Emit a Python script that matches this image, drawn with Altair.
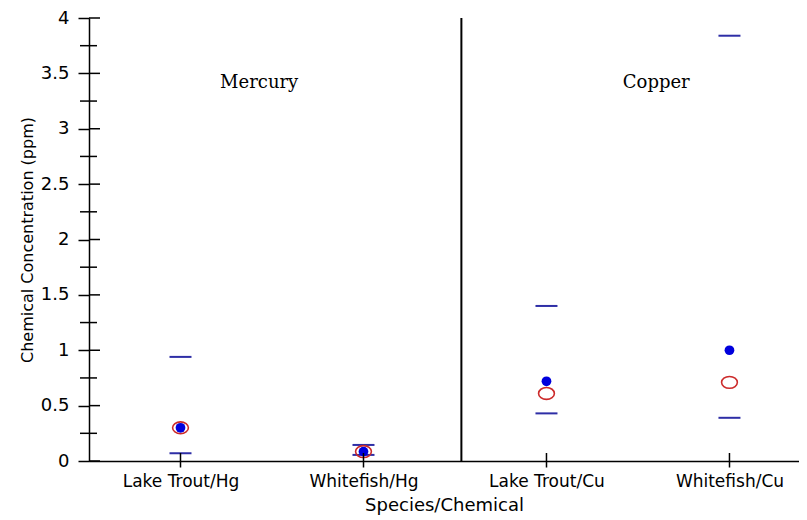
import altair as alt
import pandas as pd

# ---- data ----
categories = ["Lake Trout/Hg", "Whitefish/Hg", "Lake Trout/Cu", "Whitefish/Cu"]
max_vals = [0.94, 0.145, 1.40, 3.84]
min_vals = [0.07, 0.055, 0.43, 0.39]
mean_vals = [0.30, 0.085, 0.72, 1.00]     # filled blue dots
median_vals = [0.30, 0.085, 0.61, 0.71]   # open red ellipses

major_ticks = [0, 0.5, 1, 1.5, 2, 2.5, 3, 3.5, 4]
minor_ticks = [0.25, 0.75, 1.25, 1.75, 2.25, 2.75, 3.25, 3.75]

panel_names = ["Mercury", "Copper"]
panel_at = [0.43, 2.6]
panel_level = [3.41, 3.41]
divider_at = [1.535]

W, H = 710, 443

df = pd.DataFrame({
    "idx": list(range(len(categories))),
    "cat": categories,
    "max": max_vals,
    "min": min_vals,
    "mean": mean_vals,
    "median": median_vals,
})
ticks_major = pd.DataFrame({"v": major_ticks})
ticks_minor = pd.DataFrame({"v": minor_ticks})
panels = pd.DataFrame({"name": panel_names, "x": panel_at, "y": panel_level})
divider = pd.DataFrame({"x": divider_at})

xscale = alt.Scale(domain=[-0.5, 3.38], nice=False, zero=False)
yscale = alt.Scale(domain=[0, 4], nice=False, zero=True)

label_expr = "[" + ",".join("'" + c + "'" for c in categories) + "][datum.value]"

xaxis = alt.Axis(
    values=list(range(len(categories))), labelExpr=label_expr,
    title="Species/Chemical", grid=False,
    domainColor="black", domainWidth=1.5,
    tickColor="black", tickSize=6, tickWidth=1.5,
    labelFont="DejaVu Sans", labelFontSize=17, labelColor="black", labelPadding=6,
    titleFont="DejaVu Sans", titleFontSize=18, titleFontWeight="normal",
    titleColor="black", titlePadding=7,
)
yaxis = alt.Axis(
    values=major_ticks, format="~g", title="Chemical Concentration (ppm)", grid=False,
    domainColor="black", domainWidth=1.5,
    tickColor="black", tickSize=11, tickWidth=1.5,
    labelFont="DejaVu Sans", labelFontSize=18, labelColor="black", labelPadding=9,
    titleFont="DejaVu Sans", titleFontSize=16, titleFontWeight="normal",
    titleColor="black", titlePadding=5,
)


def X(field):
    return alt.X(field, scale=xscale, axis=xaxis)


def Y(field):
    return alt.Y(field, scale=yscale, axis=yaxis)


dash_color = "#2e2ea6"

max_layer = alt.Chart(df).mark_tick(
    orient="horizontal", size=22, thickness=2, color=dash_color, opacity=1
).encode(x=X("idx:Q"), y=Y("max:Q"))
min_layer = alt.Chart(df).mark_tick(
    orient="horizontal", size=22, thickness=2, color=dash_color, opacity=1
).encode(x=X("idx:Q"), y=Y("min:Q"))
ellipse = "M-1,0 A1,0.75 0 1,0 1,0 A1,0.75 0 1,0 -1,0 Z"
median_layer = alt.Chart(df).mark_point(
    shape=ellipse, size=250, filled=False, stroke="#cc2a2a", strokeWidth=1.6, opacity=1
).encode(x=X("idx:Q"), y=Y("median:Q"))
mean_layer = alt.Chart(df).mark_point(
    shape="circle", size=95, filled=True, color="#0000dd", opacity=1
).encode(x=X("idx:Q"), y=Y("mean:Q"))
divider_layer = alt.Chart(divider).mark_rule(color="black", strokeWidth=2).encode(
    x=X("x:Q"), y=alt.value(0), y2=alt.value(H),
)
ymajor_inner = alt.Chart(ticks_major).mark_rule(color="black", strokeWidth=1.5).encode(
    y=Y("v:Q"), x=alt.value(0), x2=alt.value(11),
)
yminor = alt.Chart(ticks_minor).mark_rule(color="black", strokeWidth=1.5).encode(
    y=Y("v:Q"), x=alt.value(-9), x2=alt.value(8),
)
xtick_inner = alt.Chart(df).mark_rule(color="black", strokeWidth=1.5).encode(
    x=X("idx:Q"), y=alt.value(H - 8), y2=alt.value(H),
)
panel_text = alt.Chart(panels).mark_text(
    font="DejaVu Serif", fontSize=18, color="black", align="center", baseline="middle"
).encode(x=X("x:Q"), y=Y("y:Q"), text="name:N")

chart = alt.layer(
    max_layer, min_layer, median_layer, mean_layer,
    divider_layer, ymajor_inner, yminor, xtick_inner, panel_text,
).properties(
    width=W, height=H,
    autosize=alt.AutoSizeParams(type="none"),
    padding={"left": 81, "top": 10, "right": 0, "bottom": 55},
).configure_view(strokeWidth=0)

chart.save("out.html", embed_options={"renderer": "svg", "actions": False})
